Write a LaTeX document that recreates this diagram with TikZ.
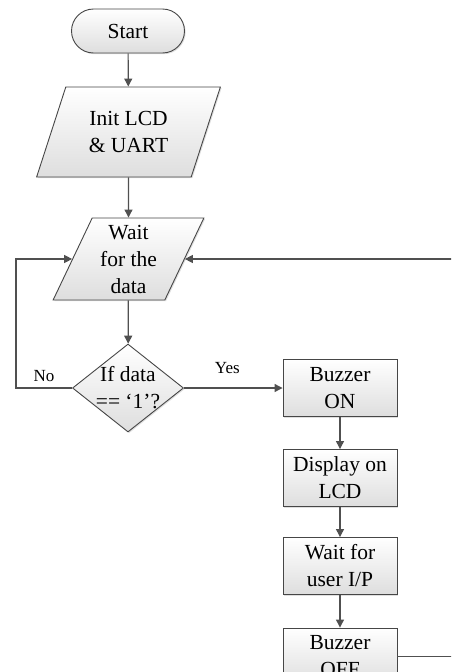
\documentclass[tikz,border=0pt]{standalone}
\usepackage{fontspec}
\setmainfont{Liberation Serif}
\usetikzlibrary{shapes.geometric,arrows.meta,shadows}
\definecolor{linegray}{RGB}{80,80,80}
\definecolor{edgegray}{RGB}{70,70,70}
\begin{document}
\begin{tikzpicture}[x=1pt,y=-1pt,>={Triangle[length=8pt,width=8pt]},
    base/.style={draw=edgegray,line width=0.9pt,top color=white,bottom color=black!13,
      drop shadow={shadow xshift=1.2pt,shadow yshift=-1.2pt,opacity=.25},
      align=center,inner sep=0pt,font=\fontsize{21.5}{27}\selectfont},
    terminal/.style={base,rounded corners=22pt,minimum width=113pt,minimum height=44pt},
    iobox/.style={base,trapezium,trapezium left angle=66,trapezium right angle=114,
      trapezium stretches=true},
    process/.style={base,rectangle,minimum width=114pt,minimum height=57pt},
    decision/.style={base,diamond,minimum width=111pt,minimum height=88pt},
    flow/.style={draw=linegray,line width=1.2pt,->},
    lbl/.style={font=\fontsize{17}{20}\selectfont,inner sep=0pt}]
  \useasboundingbox (0,0) rectangle (451,672);
  \clip (0,0) rectangle (451,672);
  \node[terminal] (start) at (128,31) {Start};
  \node[iobox,minimum width=184pt,minimum height=90pt] (init) at (128.5,132) {Init LCD\\\& UART};
  \node[iobox,minimum width=151pt,minimum height=82pt] (waitdata) at (128.5,259) {Wait\\for the\\data};
  \node[decision,label={[align=center,font=\fontsize{21.5}{27}\selectfont]center:If data\\== `1'?}] (check) at (128,388) {};
  \node[process] (buzon) at (340,388) {Buzzer\\ON};
  \node[process] (disp) at (340,478) {Display on\\LCD};
  \node[process] (waituser) at (340,566) {Wait for\\user I/P};
  \node[process] (buzoff) at (340,656.5) {Buzzer\\OFF};
  \coordinate (noturn) at (16,388);
  \coordinate (retright) at (470,656.5);
  \draw[flow] (start) -- (init);
  \draw[flow] (init) -- (waitdata);
  \draw[flow] (waitdata) -- (check);
  \draw[flow] (check.west) -- node[lbl,above=6pt] (nolbl) {No} (noturn) |- (waitdata.west);
  \draw[flow] (check.east) -- node[lbl,above=14pt,pos=0.44] (yeslbl) {Yes} (buzon);
  \draw[flow] (buzon) -- (disp);
  \draw[flow] (disp) -- (waituser);
  \draw[flow] (waituser) -- (buzoff);
  \draw[flow] (buzoff.east) -- (retright) |- (waitdata.east);
\end{tikzpicture}
\end{document}
